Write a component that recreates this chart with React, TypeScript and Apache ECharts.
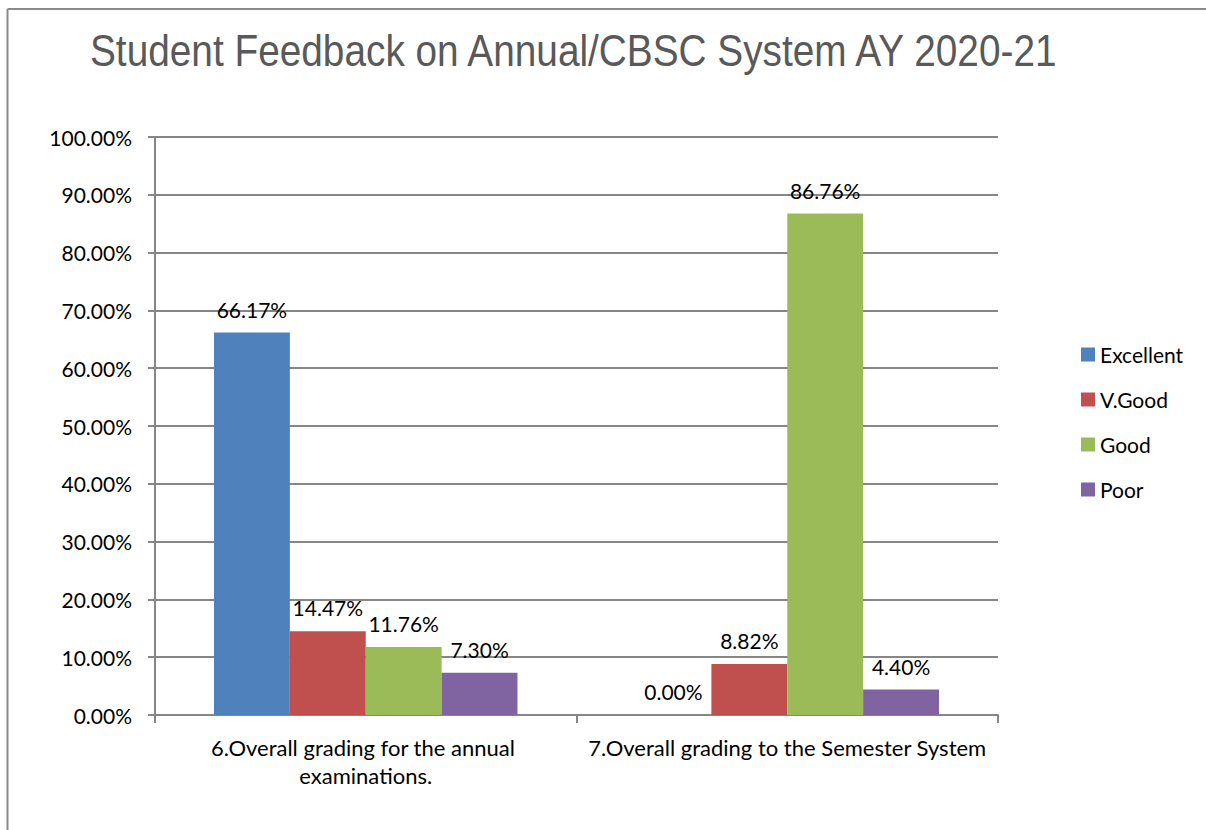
import React, { useEffect, useRef } from "react";
import * as echarts from "echarts";

const categories = [
  "6.Overall grading for the annual examinations.",
  "7.Overall grading to the Semester System",
];
const seriesNames = ["Excellent", "V.Good", "Good", "Poor"];
const excellent = [66.17, 0.0];
const vGood = [14.47, 8.82];
const good = [11.76, 86.76];
const poor = [7.3, 4.4];
const colors = ["#4F81BD", "#C0504D", "#9BBB59", "#8064A2"];
const titleText = "Student Feedback on Annual/CBSC System AY 2020-21";

const FONT = "Lato, 'Noto Sans', sans-serif";

export default function App() {
  const ref = useRef<HTMLDivElement>(null);
  useEffect(() => {
    if (!ref.current) return;
    const chart = echarts.init(ref.current, undefined, { renderer: "svg" });
    const values = [excellent, vGood, good, poor];
    const option: any = {
      animation: false,
      backgroundColor: "#ffffff",
      textStyle: { fontFamily: FONT },
      graphic: [
        {
          type: "line",
          shape: { x1: 7.5, y1: 9, x2: 7.5, y2: 830 },
          style: { stroke: "#8a8a8a", lineWidth: 2 },
        },
        {
          type: "line",
          shape: { x1: 7.5, y1: 9, x2: 1206, y2: 9 },
          style: { stroke: "#8a8a8a", lineWidth: 2 },
        },
        {
          type: "text",
          x: 90,
          y: 50,
          scaleX: 0.862,
          style: {
            text: titleText,
            fontFamily: "'Liberation Sans', Arial, sans-serif",
            fontSize: 45,
            fill: "#595959",
            verticalAlign: "middle",
            align: "left",
          },
        },
      ],
      legend: {
        orient: "vertical",
        left: 1076,
        top: 339,
        itemWidth: 14,
        itemHeight: 14,
        itemGap: 24,
        icon: "rect",
        data: seriesNames,
        textStyle: { fontFamily: FONT, fontSize: 21, color: "#000", lineHeight: 20 },
      },
      grid: { left: 155, right: 208, top: 137, bottom: 115, containLabel: false },
      xAxis: {
        type: "category",
        data: categories,
        axisLine: { lineStyle: { color: "#868686", width: 2 } },
        axisTick: { show: true, length: 8, lineStyle: { color: "#868686", width: 2 } },
        axisLabel: {
          fontFamily: FONT,
          fontSize: 22,
          color: "#000",
          margin: 18,
          lineHeight: 28,
          width: 420,
          overflow: "break",
          interval: 0,
        },
      },
      yAxis: {
        type: "value",
        min: 0,
        max: 100,
        interval: 10,
        axisLine: { show: true, lineStyle: { color: "#868686", width: 2 } },
        axisTick: { show: true, length: 7, lineStyle: { color: "#868686", width: 2 } },
        splitLine: { show: true, lineStyle: { color: "#868686", width: 2 } },
        axisLabel: {
          fontFamily: FONT,
          fontSize: 21,
          color: "#000",
          margin: 23,
          formatter: (v: number) => v.toFixed(2) + "%",
        },
      },
      series: seriesNames.map((name, i) => ({
        name,
        type: "bar",
        data: values[i],
        barGap: "0%",
        barCategoryGap: "28%",
        itemStyle: { color: colors[i] },
        label: {
          show: true,
          position: "top",
          distance: 13,
          fontFamily: FONT,
          fontSize: 21,
          color: "#000",
          formatter: (p: any) => Number(p.value).toFixed(2) + "%",
        },
      })),
    };
    chart.setOption(option);
    return () => chart.dispose();
  }, []);
  return (
    <div
      ref={ref}
      style={{ position: "absolute", left: 0, top: 0, width: 1206, height: 830 }}
    />
  );
}
